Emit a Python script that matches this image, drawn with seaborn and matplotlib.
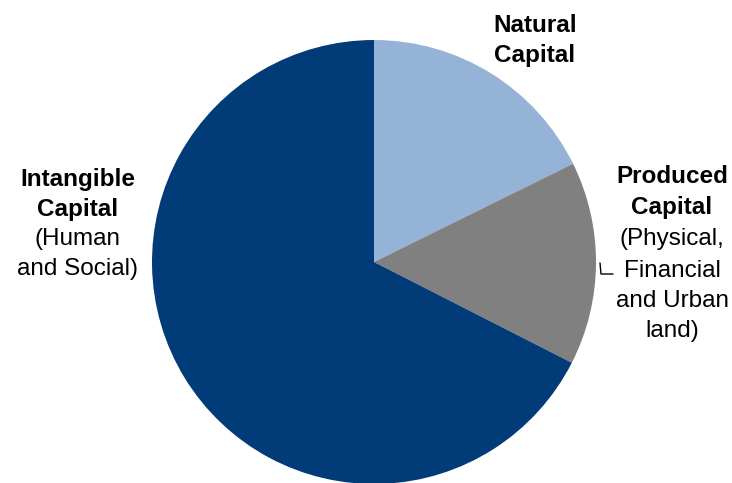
import matplotlib
matplotlib.use("Agg")
import matplotlib.pyplot as plt
import seaborn as sns

sns.set_theme(style="white")
plt.rcParams['font.family'] = ['Liberation Sans', 'DejaVu Sans']

categories = ["Natural Capital", "Produced Capital", "Intangible Capital"]
shares = [17.7, 14.8, 67.5]
colors = ["#95B3D7", "#808080", "#023C78"]

fig = plt.figure(figsize=(7.32, 4.83), dpi=100)
W, H = 732, 483
cx, cy, r = 374, 262, 222
ax = fig.add_axes([(cx - r) / W, (H - cy - r) / H, 2 * r / W, 2 * r / H])
ax.pie(shares, colors=colors, startangle=90, counterclock=False, radius=1,
       wedgeprops=dict(linewidth=0))
ax.set_xlim(-1, 1)
ax.set_ylim(-1, 1)
ax.set_axis_off()

def px(x, y):
    return x / W, 1 - y / H

def lines(x, ys, texts, weights):
    for y, t, w in zip(ys, texts, weights):
        fx, fy = px(x, y)
        fig.text(fx, fy, t, ha="center", va="baseline", fontsize=17.5,
                 fontweight=w, color="black")

lines(535, [32, 62], ["Natural", "Capital"], ["bold", "bold"])
lines(77.5, [186, 216, 245, 275],
      ["Intangible", "Capital", "(Human", "and Social)"],
      ["bold", "bold", "normal", "normal"])
lines(672, [183, 214, 245, 277, 307, 337],
      ["Produced", "Capital", "(Physical,", "Financial", "and Urban", "land)"],
      ["bold", "bold", "normal", "normal", "normal", "normal"])

xs = [600 / W, 601 / W, 613 / W]
ys = [1 - 263 / H, 1 - 274 / H, 1 - 274 / H]
fig.add_artist(plt.Line2D(xs, ys, color="black", linewidth=1))

fig.savefig("out.png", dpi=100)
